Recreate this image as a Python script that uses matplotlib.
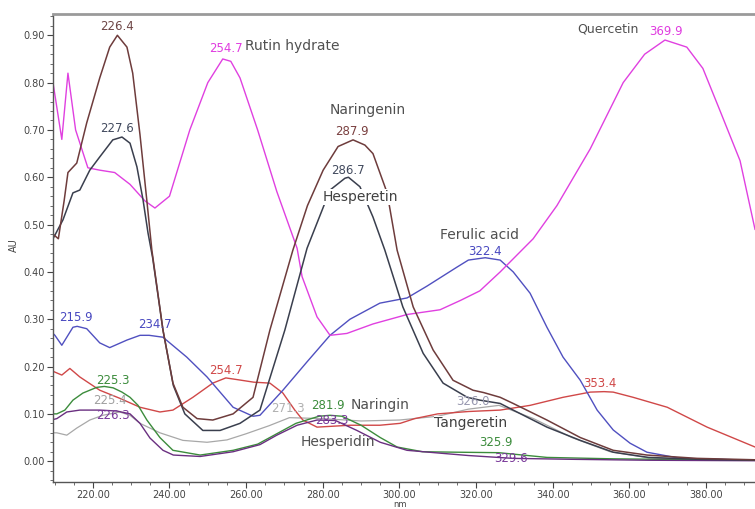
import matplotlib
matplotlib.use("Agg")
import matplotlib.pyplot as plt
from matplotlib.ticker import MultipleLocator, FormatStrFormatter

# UV spectra overlay (wavelength in nm, absorbance in AU)
quercetin_nm = [209.6, 211.9, 213.5, 215.5, 218.7, 221.8, 225.7, 229.7, 233.6, 236.2, 240.0,
                245.3, 250.0, 253.9, 256.0, 258.4, 263.0, 268.0, 273.3, 274.6, 278.5, 281.9,
                286.3, 293.1, 302.0, 310.6, 316.0, 321.0, 326.3, 334.9, 341.1, 349.8, 358.4,
                364.0, 369.3, 375.0, 379.2, 383.7, 388.9, 392.8]
quercetin_au = [0.80, 0.68, 0.82, 0.70, 0.62, 0.615, 0.61, 0.585, 0.55, 0.535, 0.56,
                0.70, 0.80, 0.85, 0.845, 0.81, 0.70, 0.57, 0.45, 0.39, 0.305, 0.266,
                0.27, 0.29, 0.31, 0.32, 0.34, 0.36, 0.40, 0.47, 0.54, 0.66, 0.80,
                0.86, 0.89, 0.875, 0.83, 0.74, 0.635, 0.49]

naringenin_nm = [209.6, 211.0, 212.5, 213.5, 215.8, 218.4, 221.8, 224.4, 226.4, 228.9, 230.4,
                 232.3, 234.1, 235.4, 238.3, 240.9, 243.5, 247.2, 251.3, 256.6, 261.8, 266.2,
                 272.2, 276.0, 280.1, 284.0, 287.9, 291.0, 293.1, 296.8, 299.4, 303.6, 308.8,
                 314.0, 319.2, 322.0, 326.3, 329.7, 338.5, 347.2, 355.8, 364.6, 377.7, 392.8]
naringenin_au = [0.48, 0.47, 0.55, 0.61, 0.63, 0.715, 0.81, 0.875, 0.90, 0.875, 0.82,
                 0.69, 0.55, 0.446, 0.277, 0.165, 0.114, 0.09, 0.087, 0.10, 0.135, 0.277,
                 0.446, 0.54, 0.615, 0.665, 0.679, 0.668, 0.65, 0.567, 0.446, 0.326, 0.235,
                 0.171, 0.15, 0.145, 0.135, 0.122, 0.087, 0.05, 0.023, 0.013, 0.006, 0.003]

hesperetin_nm = [209.6, 212.2, 214.8, 216.6, 219.2, 221.8, 225.2, 227.6, 229.7, 231.5, 233.1,
                 234.4, 235.6, 238.3, 241.0, 244.0, 248.7, 253.2, 258.4, 263.6, 270.1, 275.9,
                 281.9, 285.8, 286.7, 289.7, 293.1, 296.2, 300.9, 306.2, 311.4, 317.7, 321.0,
                 326.3, 329.7, 338.5, 347.2, 355.8, 365.0, 378.0, 392.8]
hesperetin_au = [0.47, 0.51, 0.567, 0.573, 0.615, 0.643, 0.679, 0.685, 0.672, 0.622, 0.552,
                 0.482, 0.43, 0.277, 0.16, 0.10, 0.065, 0.065, 0.08, 0.108, 0.277, 0.45,
                 0.573, 0.598, 0.60, 0.58, 0.516, 0.446, 0.326, 0.228, 0.165, 0.135, 0.129,
                 0.122, 0.108, 0.072, 0.044, 0.019, 0.008, 0.004, 0.002]

ferulic_nm = [209.6, 210.1, 211.9, 214.8, 215.9, 218.4, 221.8, 224.4, 228.9, 232.3, 234.7,
              238.3, 244.5, 249.8, 256.6, 261.8, 263.6, 269.6, 275.9, 281.9, 287.1, 294.9,
              302.0, 307.2, 315.0, 318.0, 322.4, 326.3, 329.7, 334.1, 338.5, 342.7, 347.2,
              351.6, 355.8, 360.2, 364.6, 373.3, 392.8]
ferulic_au = [0.27, 0.266, 0.245, 0.283, 0.285, 0.28, 0.25, 0.24, 0.256, 0.266, 0.266,
              0.262, 0.22, 0.178, 0.114, 0.095, 0.097, 0.15, 0.21, 0.266, 0.30, 0.334,
              0.345, 0.37, 0.41, 0.425, 0.43, 0.425, 0.40, 0.355, 0.283, 0.22, 0.171,
              0.108, 0.066, 0.038, 0.019, 0.006, 0.002]

red_nm = [209.6, 211.9, 214.0, 216.6, 221.8, 227.0, 232.3, 237.5, 240.9, 246.1, 251.3,
          254.7, 258.0, 262.0, 266.2, 269.6, 272.7, 274.8, 278.5, 287.1, 294.9, 300.2,
          304.0, 310.0, 318.0, 326.3, 334.1, 342.7, 349.8, 353.4, 355.8, 361.0, 369.9,
          380.3, 392.8]
red_au = [0.19, 0.182, 0.196, 0.178, 0.15, 0.133, 0.114, 0.104, 0.108, 0.135, 0.165,
          0.176, 0.172, 0.167, 0.165, 0.144, 0.108, 0.087, 0.072, 0.076, 0.076, 0.08,
          0.09, 0.10, 0.105, 0.108, 0.118, 0.135, 0.146, 0.147, 0.146, 0.135, 0.114,
          0.072, 0.03]

naringin_nm = [209.6, 210.6, 212.7, 214.8, 217.4, 219.2, 221.0, 223.0, 225.3, 227.6, 229.7,
               231.8, 234.1, 237.5, 240.9, 248.0, 256.6, 263.0, 268.0, 273.0, 279.0, 281.9,
               285.0, 290.0, 295.0, 299.4, 306.0, 315.0, 325.9, 338.5, 355.8, 392.8]
naringin_au = [0.10, 0.10, 0.108, 0.129, 0.144, 0.15, 0.156, 0.158, 0.155, 0.146, 0.135,
               0.118, 0.087, 0.05, 0.023, 0.013, 0.023, 0.036, 0.058, 0.08, 0.095, 0.097,
               0.095, 0.076, 0.05, 0.03, 0.02, 0.019, 0.018, 0.008, 0.005, 0.002]

hesperidin_nm = [209.6, 210.6, 213.2, 216.6, 221.8, 226.3, 229.7, 232.3, 234.9, 238.3, 241.0,
                 248.0, 256.6, 263.6, 268.0, 273.3, 278.5, 283.3, 288.9, 295.0, 302.0, 310.6,
                 318.0, 329.6, 345.0, 365.0, 392.8]
hesperidin_au = [0.088, 0.09, 0.104, 0.108, 0.108, 0.106, 0.10, 0.08, 0.049, 0.023, 0.013,
                 0.01, 0.02, 0.035, 0.055, 0.076, 0.087, 0.086, 0.065, 0.04, 0.023, 0.017,
                 0.012, 0.006, 0.004, 0.002, 0.001]

tangeretin_nm = [209.6, 210.6, 213.2, 215.8, 219.2, 222.6, 227.0, 229.7, 232.3, 237.5, 243.5,
                 249.8, 255.0, 260.0, 266.0, 271.3, 280.0, 290.0, 300.0, 310.0, 318.0, 326.0,
                 335.0, 345.0, 355.0, 365.0, 392.8]
tangeretin_au = [0.06, 0.06, 0.055, 0.07, 0.087, 0.097, 0.104, 0.097, 0.08, 0.06, 0.044,
                 0.04, 0.045, 0.058, 0.075, 0.092, 0.09, 0.085, 0.087, 0.095, 0.11, 0.118,
                 0.09, 0.05, 0.02, 0.007, 0.002]

# peak labels: (text, wavelength, AU, colour)
peak_labels = [
    ("226.4", 226.3, 0.918, "#6e4646"),
    ("227.6", 226.3, 0.704, "#424a5e"),
    ("254.7", 254.7, 0.873, "#e03ce0"),
    ("287.9", 287.6, 0.696, "#7a4040"),
    ("286.7", 286.6, 0.615, "#424a5e"),
    ("322.4", 322.3, 0.444, "#4848c0"),
    ("369.9", 369.6, 0.907, "#e03ce0"),
    ("215.9", 215.6, 0.304, "#4848c0"),
    ("234.7", 236.2, 0.288, "#4848c0"),
    ("254.7", 254.7, 0.192, "#d04848"),
    ("353.4", 352.4, 0.165, "#d04848"),
    ("225.3", 225.2, 0.171, "#3c8c3c"),
    ("225.4", 224.4, 0.129, "#a0a0a0"),
    ("226.3", 225.2, 0.097, "#7a3a9a"),
    ("271.3", 270.9, 0.112, "#b0b0b0"),
    ("281.9", 281.4, 0.118, "#3c8c3c"),
    ("283.3", 282.4, 0.085, "#7a3a9a"),
    ("326.0", 319.2, 0.127, "#9898b0"),
    ("325.9", 325.2, 0.040, "#3c8c3c"),
    ("329.6", 329.1, 0.006, "#7a3a9a"),
]

# compound names: (text, wavelength, AU, horizontal alignment, boxed, size)
name_labels = [
    ("Rutin hydrate", 259.7, 0.877, "left", False, 10),
    ("Naringenin", 291.6, 0.742, "center", False, 10),
    ("Hesperetin", 289.7, 0.558, "center", True, 10),
    ("Ferulic acid", 320.8, 0.478, "center", False, 10),
    ("Quercetin", 354.5, 0.913, "center", False, 9),
    ("Naringin", 294.9, 0.118, "center", False, 10),
    ("Hesperidin", 284.0, 0.040, "center", False, 10),
    ("Tangeretin", 318.7, 0.080, "center", True, 10),
]

fig = plt.figure(figsize=(7.55, 5.09), dpi=100)
ax = fig.add_axes([0.0702, 0.053, 0.9298, 0.9195])

ax.plot(tangeretin_nm, tangeretin_au, color="#a8a8a8", lw=0.9)
ax.plot(red_nm, red_au, color="#d04848", lw=1.0)
ax.plot(ferulic_nm, ferulic_au, color="#5050c0", lw=1.0)
ax.plot(naringin_nm, naringin_au, color="#3c8c3c", lw=1.0)
ax.plot(hesperidin_nm, hesperidin_au, color="#6a2f80", lw=1.0)
ax.plot(quercetin_nm, quercetin_au, color="#e040e0", lw=1.0)
ax.plot(hesperetin_nm, hesperetin_au, color="#3a3f4e", lw=1.1)
ax.plot(naringenin_nm, naringenin_au, color="#6e3c3c", lw=1.1)

for txt, x, y, c in peak_labels:
    ax.text(x, y, txt, color=c, fontsize=8.5, ha="center", va="center")

for txt, x, y, ha, boxed, size in name_labels:
    kw = {}
    if boxed:
        kw["bbox"] = dict(facecolor="white", edgecolor="none", pad=0.5)
    ax.text(x, y, txt, color="#505050" if not boxed else "#404040",
            fontsize=size, ha=ha, va="center", **kw)

ax.set_xlim(209.6, 392.8)
ax.set_ylim(-0.044, 0.945)
ax.xaxis.set_major_locator(MultipleLocator(20))
ax.xaxis.set_minor_locator(MultipleLocator(5))
ax.yaxis.set_major_locator(MultipleLocator(0.1))
ax.yaxis.set_minor_locator(MultipleLocator(0.02))
ax.xaxis.set_major_formatter(FormatStrFormatter("%.2f"))
ax.yaxis.set_major_formatter(FormatStrFormatter("%.2f"))
ax.set_xticks([t for t in range(220, 400, 20)])
ax.tick_params(axis="both", which="major", direction="out", length=4, width=0.8,
               labelsize=7, colors="#444444", pad=2)
ax.tick_params(axis="both", which="minor", direction="out", length=2, width=0.6,
               colors="#555555")

ax.spines["right"].set_visible(False)
ax.spines["top"].set_color("#9a9a9a")
ax.spines["top"].set_linewidth(2.0)
for s in ("left", "bottom"):
    ax.spines[s].set_color("#555555")
    ax.spines[s].set_linewidth(1.0)

fig.text(14 / 755, 1 - 245 / 509, "AU", rotation=90, fontsize=7, color="#444444",
         ha="center", va="center")
fig.text(400 / 755, 0.0, "nm", fontsize=6, color="#444444",
         ha="center", va="bottom")

fig.savefig("out.png", dpi=100)
